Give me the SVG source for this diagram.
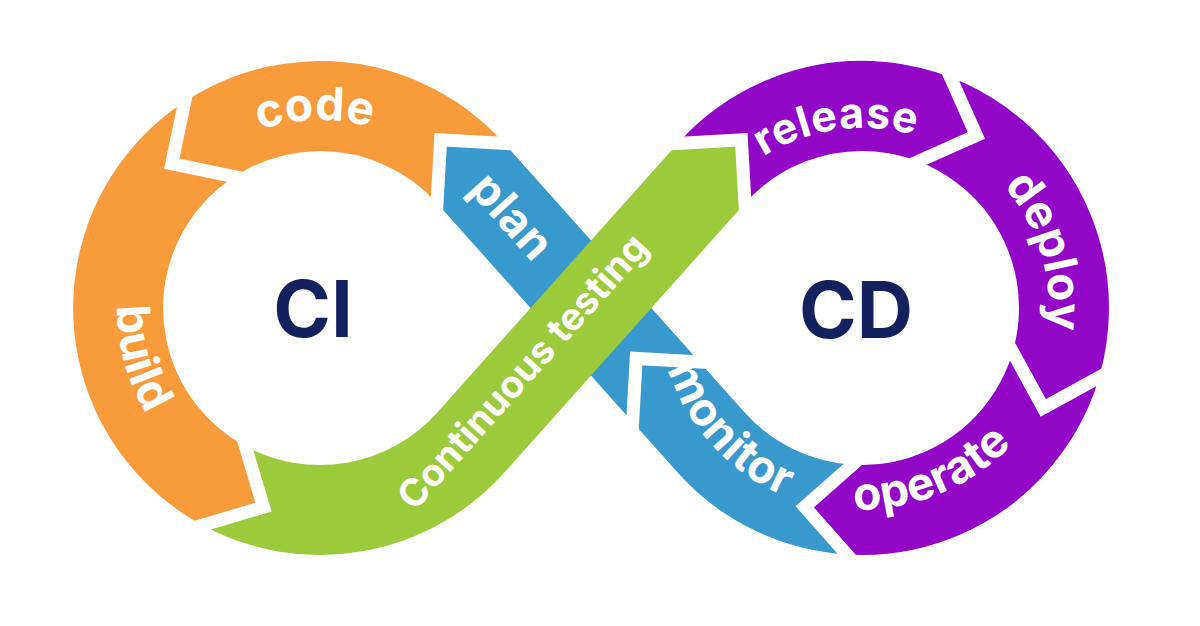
<svg xmlns="http://www.w3.org/2000/svg" width="1200" height="626" viewBox="0 0 1200 626">
<style>
.band{fill:none;stroke-width:90;stroke-linecap:butt}
.gap{fill:none;stroke:#fff;stroke-width:13;stroke-linejoin:miter;stroke-linecap:butt}
.lbl{font-family:Inter,"Open Sans","Liberation Sans",sans-serif;font-weight:700;font-size:46px;fill:#fff;letter-spacing:0.5px}
.big{font-family:Inter,"Open Sans","Liberation Sans",sans-serif;font-weight:700;font-size:78px;fill:#13225F;text-anchor:middle}
</style>
<defs>
<polygon id="tip" points="-45,4 -45,0 0,-45 45,0 45,4"/>
<polyline id="cut" points="-58,13 0,-45 58,13"/>
<path id="tp-code" d="M141.8,248 A188,188 0 0 1 495,239.4"/>
<path id="tp-build" d="M202.1,142.7 A203,203 0 0 0 304.1,510.4"/>
<path id="tp-release" d="M674.1,301.4 A190,190 0 0 1 1040.8,249.9"/>
<path id="tp-deploy" d="M839.2,122.4 A187,187 0 0 1 946.9,474.6"/>
<path id="tp-operate" d="M688,422 A211,211 0 0 0 1067.5,264.6"/>
<path id="tp-monitor" d="M702.4,178.1 A207,207 0 0 0 977.8,479.6"/>
</defs>

<g id="connectors">
  <!-- blue: monitor + plan -->
  <path class="band" stroke="#3799CE" d="M849.7,509.6 A202,202 0 0 1 711.4,442.7 L470.6,173.3"/>
  <use href="#cut" class="gap" transform="translate(666.2,392) rotate(-41.8)"/>
  <!-- orange: code + build -->
  <path class="band" stroke="#FA9B3B" d="M470.6,173.3 A202,202 0 1 0 223.9,485.7"/>
  <g transform="translate(320,308) rotate(318.2) translate(202,0)">
    <use href="#tip" fill="#3799CE"/>
    <use href="#cut" class="gap"/>
  </g>
  <use href="#cut" class="gap" transform="translate(320,308) rotate(236.8) translate(202,0)"/>
  <!-- green: continuous testing -->
  <path class="band" stroke="#9BCB3B" d="M223.9,485.7 A202,202 0 0 0 470.6,442.7 L711.4,173.3"/>
  <g transform="translate(320,308) rotate(118.4) translate(202,0)">
    <use href="#tip" fill="#FA9B3B"/>
    <use href="#cut" class="gap"/>
  </g>
  <!-- purple: release + deploy + operate -->
  <path class="band" stroke="#9306C8" d="M711.4,173.3 A202,202 0 1 1 849.7,509.6"/>
  <g transform="translate(862,308) rotate(221.8) translate(202,0) scale(1,-1)">
    <use href="#tip" fill="#9BCB3B"/>
    <use href="#cut" class="gap"/>
  </g>
  <use href="#cut" class="gap" transform="translate(862,308) rotate(291) translate(202,0) scale(1,-1)"/>
  <use href="#cut" class="gap" transform="translate(862,308) rotate(16.3) translate(202,0) scale(1,-1)"/>
  <g transform="translate(862,308) rotate(93.5) translate(202,0) scale(1,-1)">
    <use href="#tip" fill="#9306C8"/>
    <use href="#cut" class="gap"/>
  </g>
</g>

<g id="node-code"><text class="lbl"><textPath href="#tp-code" startOffset="50%" text-anchor="middle">code</textPath></text></g>
<g id="node-build"><text class="lbl"><textPath href="#tp-build" startOffset="50%" text-anchor="middle">build</textPath></text></g>
<g id="node-plan"><text class="lbl" text-anchor="middle" transform="translate(510,218) rotate(48.2)" x="0" y="13">plan</text></g>
<g id="node-test"><text class="lbl" style="font-size:38px;letter-spacing:0" text-anchor="middle" transform="translate(524,373) rotate(-48.2)" x="0" y="11">Continuous testing</text></g>
<g id="node-release"><text class="lbl" style="font-size:43px"><textPath href="#tp-release" startOffset="50%" text-anchor="middle">release</textPath></text></g>
<g id="node-deploy"><text class="lbl"><textPath href="#tp-deploy" startOffset="50%" text-anchor="middle">deploy</textPath></text></g>
<g id="node-operate"><text class="lbl"><textPath href="#tp-operate" startOffset="50%" text-anchor="middle">operate</textPath></text></g>
<g id="node-monitor"><text class="lbl"><textPath href="#tp-monitor" startOffset="50%" text-anchor="middle">monitor</textPath></text></g>
<g id="node-ci"><text class="big" x="313" y="337">CI</text></g>
<g id="node-cd"><text class="big" x="856" y="338">CD</text></g>
</svg>
